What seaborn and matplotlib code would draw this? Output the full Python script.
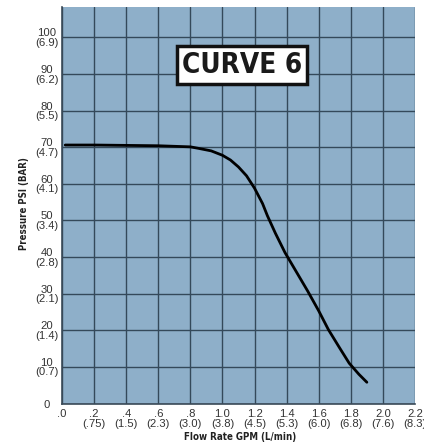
import matplotlib
matplotlib.use("Agg")
import matplotlib.pyplot as plt
from matplotlib import font_manager as fm
import seaborn as sns
import pandas as pd
import os

flow_gpm = [0.02, 0.2, 0.4, 0.6, 0.8, 0.85, 0.93, 1.0, 1.05, 1.1, 1.15, 1.2, 1.25, 1.28, 1.33, 1.39, 1.46, 1.53, 1.6, 1.66, 1.73, 1.79, 1.85, 1.90]
pressure_psi = [70.6, 70.6, 70.5, 70.4, 70.1, 69.7, 69.0, 67.8, 66.5, 64.6, 62.2, 58.8, 54.6, 51.3, 46.5, 41.2, 36.0, 30.8, 25.3, 20.2, 15.2, 11.0, 8.0, 5.8]

x_ticks = [0.0, 0.2, 0.4, 0.6, 0.8, 1.0, 1.2, 1.4, 1.6, 1.8, 2.0, 2.2]
x_labels = [".0", ".2\n(.75)", ".4\n(1.5)", ".6\n(2.3)", ".8\n(3.0)", "1.0\n(3.8)", "1.2\n(4.5)",
            "1.4\n(5.3)", "1.6\n(6.0)", "1.8\n(6.8)", "2.0\n(7.6)", "2.2\n(8.3)"]
y_ticks = [0, 10, 20, 30, 40, 50, 60, 70, 80, 90, 100]
y_labels = ["0", "10\n(0.7)", "20\n(1.4)", "30\n(2.1)", "40\n(2.8)", "50\n(3.4)", "60\n(4.1)",
            "70\n(4.7)", "80\n(5.5)", "90\n(6.2)", "100\n(6.9)"]

sns.set_theme(style="white")
plt.rcParams['font.family'] = ['Liberation Sans', 'DejaVu Sans']


def find_font(names, fallback):
    files = {os.path.basename(f.fname): f.fname for f in fm.fontManager.ttflist}
    for n in names:
        if n in files:
            return fm.FontProperties(fname=files[n])
    return fallback


regular_fp = find_font(["LiberationSans-Regular.ttf"], fm.FontProperties(family="DejaVu Sans"))
narrow_bold_fp = find_font(["LiberationSansNarrow-Bold.ttf", "DejaVuSansCondensed-Bold.ttf"],
                           fm.FontProperties(family="DejaVu Sans", weight="bold"))

df = pd.DataFrame({"flow": flow_gpm, "pressure": pressure_psi})

fig = plt.figure(figsize=(4.24, 4.47), dpi=100)
ax = fig.add_axes([62/424, 1-403.5/447, (415-62)/424, (403.5-7)/447])
ax.set_facecolor("#8eafc9")

sns.lineplot(data=df, x="flow", y="pressure", ax=ax, color="black", linewidth=2.0, zorder=5)

ax.set_xlim(0, 2.18)
ax.set_ylim(0, 108.3)
ax.set_xticks(x_ticks)
ax.set_xticklabels(x_labels, color="#333333", linespacing=0.95)
ax.set_yticks(y_ticks)
ax.set_yticklabels(y_labels, color="#333333", linespacing=0.95, ha="center")
for lab in ax.get_xticklabels() + ax.get_yticklabels():
    lab.set_fontproperties(regular_fp)
    lab.set_fontsize(8.1)
ax.tick_params(axis="y", pad=11, length=0)
ax.tick_params(axis="x", pad=4, length=0)
ax.grid(True, color="#34495a", linewidth=1.0)
ax.set_axisbelow(True)
for s in ["top", "right"]:
    ax.spines[s].set_visible(False)
for s in ["left", "bottom"]:
    ax.spines[s].set_color("#3a4a58")
    ax.spines[s].set_linewidth(1.2)

ax.set_xlabel("")
ax.set_ylabel("")
t1 = fig.text(240/424, 1-437/447, "Flow Rate GPM (L/min)", ha="center", va="center",
              fontproperties=narrow_bold_fp, color="#222222")
t1.set_fontsize(7.0)
t2 = fig.text(24/424, 1-204/447, "Pressure PSI (BAR)", ha="center", va="center", rotation=90,
              fontproperties=narrow_bold_fp, color="#222222")
t2.set_fontsize(6.9)

t3 = ax.text(0.51, 0.854, "CURVE 6", transform=ax.transAxes, ha="center", va="center",
             fontproperties=narrow_bold_fp, color="#1a1a1a",
             bbox=dict(boxstyle="square,pad=0.17", facecolor="white", edgecolor="#111111", linewidth=2.5),
             zorder=10)
t3.set_fontsize(20)

fig.savefig("out.png", dpi=100, facecolor="white")
